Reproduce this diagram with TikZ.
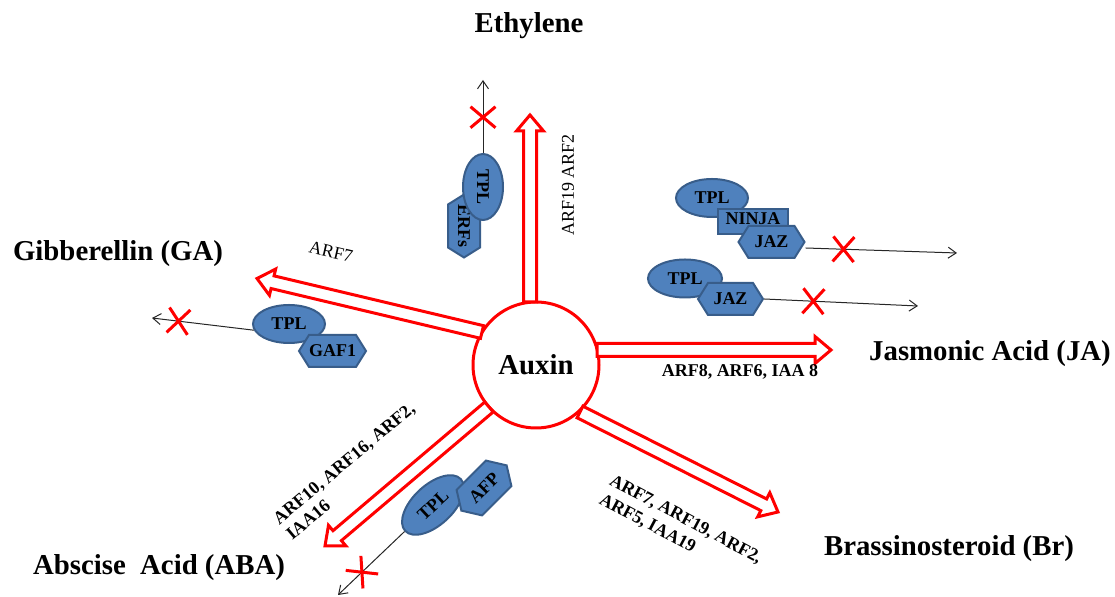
\documentclass[tikz,border=0pt]{standalone}
\usepackage{fontspec}
\setmainfont{Liberation Serif}
\usetikzlibrary{calc,shapes.geometric,shapes.symbols,shapes.misc,arrows.meta}

\definecolor{blobfill}{HTML}{4F81BD}
\definecolor{blobline}{HTML}{385D8A}

\tikzset{
  hormone/.style={font=\fontsize{14.4}{17}\selectfont\bfseries, anchor=base, inner sep=0pt},
  genes/.style={font=\fontsize{9}{10.2}\selectfont\bfseries, inner sep=0pt, align=left},
  genesreg/.style={font=\fontsize{9}{11}\selectfont, inner sep=0pt},
  blob/.style={draw=blobline, fill=blobfill, line width=1pt, inner sep=0pt,
    font=\fontsize{9}{11}\selectfont\bfseries},
  tplblob/.style={blob, ellipse, minimum width=36pt, minimum height=19pt},
  hexblob/.style={blob, signal, signal to=east and west, signal pointer angle=116,
    minimum width=33pt, minimum height=16pt},
  rectblob/.style={blob, rectangle},
  blockarrow/.style={draw=red, line width=1.5pt, fill=white},
  inhibited/.style={draw=black!85, line width=0.5pt, -{Straight Barb[length=4pt,width=5.5pt]}},
  xmark/.style={cross out, draw=red, line width=1.5pt, inner sep=0pt,
    minimum width=9pt, minimum height=11pt},
}

% hollow block arrow from coordinate #1 to coordinate #2
\newcommand{\hollowarrow}[2]{%
  \coordinate (#1-#2-hb) at ($(#2)!8pt!(#1)$);
  \draw[blockarrow]
    ($(#1)!3.25pt!-90:(#2)$) -- ($(#1-#2-hb)!3.25pt!-90:(#2)$)
    -- ($(#1-#2-hb)!6.75pt!-90:(#2)$) -- (#2)
    -- ($(#1-#2-hb)!6.75pt!90:(#2)$) -- ($(#1-#2-hb)!3.25pt!90:(#2)$)
    -- ($(#1)!3.25pt!90:(#2)$) -- cycle;}

\begin{document}
\begin{tikzpicture}[x=0.5pt, y=0.5pt]
\useasboundingbox (0,0) rectangle (1115,-597);

% central hormone
\node[circle, draw=red, line width=1.5pt, fill=white, minimum size=63pt, inner sep=0pt,
  font=\fontsize{14.4}{17}\selectfont\bfseries] (auxin) at (536,-365) {Auxin};

% arrow ends
\coordinate (sEth) at (530,-302);  \coordinate (tEth) at (530,-115);
\coordinate (sJA)  at (597,-350);  \coordinate (tJA)  at (831,-350);
\coordinate (sBr)  at (580,-412);  \coordinate (tBr)  at (778,-512);
\coordinate (sGA)  at (482,-332);  \coordinate (tGA)  at (257,-278.5);
\coordinate (sABA) at (489,-407);  \coordinate (tABA) at (325,-546);

\hollowarrow{sEth}{tEth}
\hollowarrow{sJA}{tJA}
\hollowarrow{sBr}{tBr}
\hollowarrow{sGA}{tGA}
\hollowarrow{sABA}{tABA}

% hormone names
\node[hormone] (eth) at (529,-33)  {Ethylene};
\node[hormone] (ga)  at (118,-261) {Gibberellin (GA)};
\node[hormone] (ja)  at (990,-361) {Jasmonic Acid (JA)};
\node[hormone] (br)  at (949,-556) {Brassinosteroid (Br)};
\node[hormone] (aba) at (159,-575) {Abscise\ \ Acid (ABA)};

% gene labels along the arrows
\node[genesreg, rotate=90] (lEth) at (568,-185) {ARF19 ARF2};
\node[genes] (lJA) at (740,-372) {ARF8, ARF6, IAA 8};
\node[genesreg, rotate=-13] (lGA) at (331,-252) {ARF7};
\node[genes, rotate=-28, anchor=north west, font=\fontsize{9}{10.8}\selectfont\bfseries]
  (lBr) at (614,-473) {ARF7, ARF19, ARF2,\\ARF5, IAA19};
\node[genes, rotate=40, anchor=north west] (lABA) at (271,-516)
  {ARF10, ARF16, ARF2,\\IAA16};

% ethylene repressor complex
\node[hexblob, rotate=-90, minimum width=31pt, minimum height=16pt] (erf) at (464,-226) {ERFs};
\node[tplblob, rotate=-90, minimum width=33pt, minimum height=20pt] (tplE) at (483,-187) {TPL};
\coordinate (endE) at (483,-80);
\draw[inhibited] (tplE.west) -- node[xmark, sloped, pos=0.49] (xE) {} (endE);

% jasmonate repressor complexes
\node[tplblob] (tplJ1) at (712,-198) {TPL};
\node[rectblob, minimum width=35pt, minimum height=12.5pt, text depth=3pt] (ninja) at (753,-221.5) {NINJA};
\node[hexblob] (jaz1) at (771.5,-242) {JAZ};
\coordinate (endJ1) at (957,-253);
\draw[inhibited] ([yshift=-3pt]jaz1.east) -- node[xmark, sloped, pos=0.25] (xJ1) {} (endJ1);

\node[tplblob, minimum width=37pt] (tplJ2) at (685,-278.5) {TPL};
\node[hexblob, minimum width=32.5pt] (jaz2) at (730.5,-299) {JAZ};
\coordinate (endJ2) at (918,-306);
\draw[inhibited] (jaz2.east) -- node[xmark, sloped, pos=0.32] (xJ2) {} (endJ2);

% gibberellin repressor complex
\node[tplblob] (tplG) at (289,-324) {TPL};
\node[hexblob, minimum width=30.5pt] (gaf) at (332.5,-351) {GAF1};
\coordinate (endG) at (152,-318);
\draw[inhibited] (tplG.190) -- node[xmark, sloped, pos=0.74] (xG) {} (endG);

% abscisic acid repressor complex
\node[tplblob, rotate=43, minimum width=38pt, minimum height=20pt] (tplA) at (433,-505) {TPL};
\node[hexblob, rotate=45, minimum width=32pt, minimum height=18pt] (afp) at (484,-488) {AFP};
\coordinate (endA) at (338,-595);
\draw[inhibited] (tplA.west) -- node[xmark, sloped, pos=0.64] (xA) {} (endA);
\end{tikzpicture}
\end{document}
